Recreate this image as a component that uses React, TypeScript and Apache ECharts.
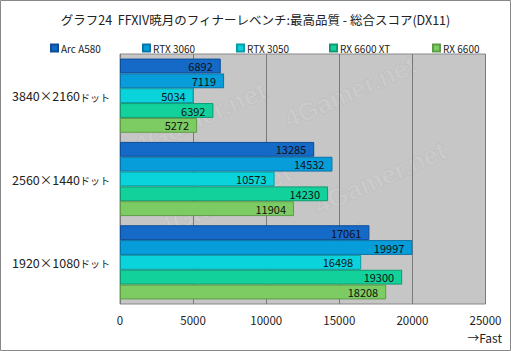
import React, { useEffect, useRef } from "react";
import * as echarts from "echarts";

const categories = ["3840×2160ドット", "2560×1440ドット", "1920×1080ドット"];
const seriesNames = ["Arc A580", "RTX 3060", "RTX 3050", "RX 6600 XT", "RX 6600"];
const arcA580 = [6892, 13285, 17061];
const rtx3060 = [7119, 14532, 19997];
const rtx3050 = [5034, 10573, 16498];
const rx6600xt = [6392, 14230, 19300];
const rx6600 = [5272, 11904, 18208];
const colors = ["#1569C7", "#079DDB", "#0BD3DB", "#13D19A", "#7DCC63"];
const borders = ["#0E4E96", "#0A74A6", "#0A9AA4", "#0F9A72", "#5E9C47"];
const legendLeft = [45, 137, 231, 324, 427];
const titleText = "グラフ24  FFXIV暁月のフィナーレベンチ:最高品質 - 総合スコア(DX11)";

export default function App() {
  const ref = useRef<HTMLDivElement>(null);
  useEffect(() => {
    const chart = echarts.init(ref.current!, null, { renderer: "svg" });
    const values = [arcA580, rtx3060, rtx3050, rx6600xt, rx6600];
    const font = "'Noto Sans CJK JP', 'Noto Sans', sans-serif";
    const wm: any[] = [];
    const wmPos = [
      [200, 118], [350, 92], [225, 200], [380, 178], [300, 258],
    ];
    wmPos.forEach(([x, y]) => {
      wm.push({
        type: "text",
        x,
        y,
        rotation: 0.42,
        z: 0,
        silent: true,
        style: {
          text: "4Gamer.net",
          font: "bold 26px Arial, sans-serif",
          fill: "rgba(210,210,210,0.45)",
          stroke: "rgba(180,180,180,0.45)",
          lineWidth: 1,
          textAlign: "center",
          textVerticalAlign: "middle",
        },
      });
    });
    chart.setOption({
      animation: false,
      textStyle: { fontFamily: font },
      title: {
        text: titleText,
        left: "center",
        top: 8,
        textStyle: { fontSize: 12.5, fontWeight: "normal", color: "#222", fontFamily: font },
      },
      legend: seriesNames.map((n, i) => ({
        data: [n],
        left: legendLeft[i],
        top: 38,
        itemWidth: 7,
        itemHeight: 7,
        itemGap: 4,
        icon: "rect",
        textStyle: { fontSize: 10, color: "#222", padding: [0, 0, 0, -2] },
      })),
      grid: {
        left: 120,
        right: 25.5,
        top: 54,
        bottom: 47,
        show: true,
        backgroundColor: "#C6C6C6",
        borderColor: "#888",
        borderWidth: 1,
        containLabel: false,
      },
      xAxis: {
        type: "value",
        min: 0,
        max: 25000,
        interval: 5000,
        axisLine: { show: false },
        axisTick: { show: false },
        splitLine: { show: true, lineStyle: { color: "#7a7a7a", width: 1 } },
        axisLabel: { fontSize: 11.5, color: "#222", margin: 10, formatter: (v: number) => String(v) },
      },
      yAxis: {
        type: "category",
        data: categories,
        inverse: true,
        axisLine: { show: false },
        axisTick: { show: false },
        axisLabel: {
          fontSize: 12,
          color: "#222",
          margin: 10,
          formatter: (v: string) => {
            const idx = v.indexOf("ドット");
            return `{a|${v.slice(0, idx)}}{b|${v.slice(idx)}}`;
          },
          rich: {
            a: { fontSize: 12.5, color: "#222", height: 16, lineHeight: 16 },
            b: { fontSize: 10, color: "#222", height: 16, lineHeight: 16, padding: [3, 0, 0, 0] },
          },
        },
      },
      graphic: [
        ...wm,
        {
          type: "rect",
          shape: { x: 0.5, y: 0.5, width: 510, height: 350 },
          style: { fill: "none", stroke: "#888", lineWidth: 1 },
          silent: true,
        },
        {
          type: "text",
          right: 9,
          top: 331,
          style: { text: "→Fast", font: `12px ${font}`, fill: "#222" },
        },
      ],
      series: seriesNames.map((n, i) => ({
        name: n,
        type: "bar",
        data: values[i],
        barGap: "0%",
        barCategoryGap: "11%",
        z: 5,
        itemStyle: { color: colors[i], borderColor: borders[i], borderWidth: 1 },
        label: {
          show: true,
          position: "insideRight",
          distance: 8,
          fontSize: 11,
          color: "#111",
        },
      })),
    });
    return () => chart.dispose();
  }, []);
  return (
    <div
      ref={ref}
      style={{ position: "fixed", left: 0, top: 0, width: 511, height: 351, background: "#fff" }}
    />
  );
}
